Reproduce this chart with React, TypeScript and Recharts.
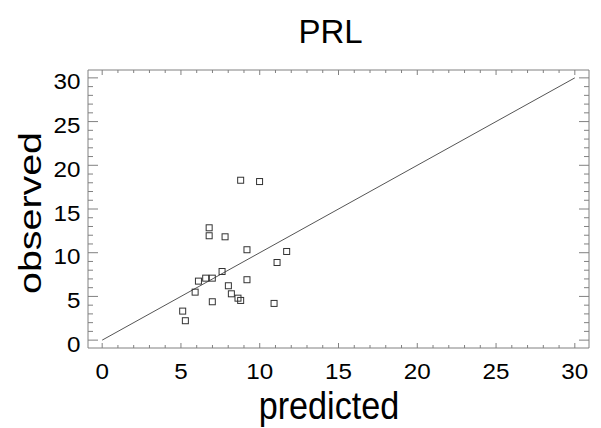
import { ScatterChart, Scatter, XAxis, YAxis } from 'recharts'

const predicted = [
    8.79, 9.99, 6.79, 6.79, 7.8, 9.19, 11.71, 11.1, 7.61, 6.11, 6.57,
    6.99, 9.19, 8.01, 5.9, 8.2, 8.62, 8.79, 6.99, 10.91, 5.11, 5.28,
]
const observed = [
    18.29, 18.14, 12.85, 11.94, 11.82, 10.34, 10.14, 8.88, 7.85, 6.75, 7.09,
    7.09, 6.91, 6.22, 5.49, 5.3, 4.8, 4.54, 4.39, 4.2, 3.32, 2.22,
]
const majorTicks = [0, 5, 10, 15, 20, 25, 30]
const allTicks = [
    0, 1, 2, 3, 4, 5, 6, 7, 8, 9, 10, 11, 12, 13, 14, 15,
    16, 17, 18, 19, 20, 21, 22, 23, 24, 25, 26, 27, 28, 29, 30,
]
const identityLine = [
    { x: 0, y: 0 },
    { x: 30, y: 30 },
]

const points = predicted.map((p, i) => ({ x: p, y: observed[i] }))

const AXIS = '#808080'
const FONT = '"Liberation Sans", Arial, sans-serif'
const DOMAIN: [number, number] = [-0.9, 30.9]

type Side = 'bottom' | 'top' | 'left' | 'right'

// ticks point inward, labels only on bottom/left
const tickFor = (side: Side) => (props: any) => {
    const { x, y, payload } = props
    const v = payload.value
    const major = majorTicks.includes(v)
    if (side === 'bottom' || side === 'top') {
        const len = major ? 5 : 3
        const dir = side === 'bottom' ? -1 : 1
        return (
            <g>
                <line x1={x} y1={y} x2={x} y2={y + dir * len} stroke={AXIS} />
                {side === 'bottom' && major && (
                    <text
                        transform={`translate(${x} ${y + 30.5}) scale(1.1 1)`}
                        textAnchor="middle"
                        fontSize={22}
                        fontFamily={FONT}
                        fill="#000"
                    >
                        {v}
                    </text>
                )}
            </g>
        )
    }
    const len = major ? 10 : 5
    const dir = side === 'left' ? 1 : -1
    return (
        <g>
            <line x1={x} y1={y} x2={x + dir * len} y2={y} stroke={AXIS} />
            {side === 'left' && major && (
                <text
                    transform={`translate(${x - 7.5} ${y + 11.6}) scale(1.1 1)`}
                    textAnchor="end"
                    fontSize={22}
                    fontFamily={FONT}
                    fill="#000"
                >
                    {v}
                </text>
            )}
        </g>
    )
}

const Square = (props: any) => {
    const { cx, cy } = props
    return <rect x={cx - 3} y={cy - 3} width={6} height={6} fill="none" stroke="#333" strokeWidth={1} />
}

const NoDot = () => <g />

export default function App() {
    return (
        <div style={{ position: 'absolute', left: 0, top: 0, width: 601, height: 428, background: '#fff' }}>
            <ScatterChart width={601} height={428} margin={{ top: 69, right: 11, bottom: 0, left: 0 }}>
                <text x={330.5} y={43} textAnchor="middle" fontSize={33} fontFamily={FONT} fill="#000">
                    PRL
                </text>
                <text
                    transform="translate(329 419) scale(0.9 1)"
                    textAnchor="middle"
                    fontSize={38}
                    fontFamily={FONT}
                    fill="#000"
                >
                    predicted
                </text>
                <text
                    transform="translate(41 213) rotate(-90) scale(1.27 1)"
                    textAnchor="middle"
                    fontSize={31}
                    fontFamily={FONT}
                    fill="#000"
                >
                    observed
                </text>
                <XAxis
                    xAxisId="b"
                    type="number"
                    dataKey="x"
                    domain={DOMAIN}
                    ticks={allTicks}
                    interval={0}
                    height={80}
                    tickSize={0}
                    tickMargin={0}
                    tickLine={false}
                    axisLine={{ stroke: AXIS }}
                    tick={tickFor('bottom')}
                    allowDataOverflow
                />
                <XAxis
                    xAxisId="t"
                    orientation="top"
                    type="number"
                    dataKey="x"
                    domain={DOMAIN}
                    ticks={allTicks}
                    interval={0}
                    height={1}
                    tickSize={0}
                    tickMargin={0}
                    tickLine={false}
                    axisLine={{ stroke: AXIS }}
                    tick={tickFor('top')}
                    allowDataOverflow
                />
                <YAxis
                    yAxisId="l"
                    type="number"
                    dataKey="y"
                    domain={DOMAIN}
                    ticks={allTicks}
                    interval={0}
                    width={88}
                    tickSize={0}
                    tickMargin={0}
                    tickLine={false}
                    axisLine={{ stroke: AXIS }}
                    tick={tickFor('left')}
                    allowDataOverflow
                />
                <YAxis
                    yAxisId="r"
                    orientation="right"
                    type="number"
                    dataKey="y"
                    domain={DOMAIN}
                    ticks={allTicks}
                    interval={0}
                    width={1}
                    tickSize={0}
                    tickMargin={0}
                    tickLine={false}
                    axisLine={{ stroke: AXIS }}
                    tick={tickFor('right')}
                    allowDataOverflow
                />
                <Scatter
                    xAxisId="t"
                    yAxisId="r"
                    data={identityLine}
                    line={{ stroke: '#555', strokeWidth: 1 }}
                    shape={<NoDot />}
                    isAnimationActive={false}
                />
                <Scatter
                    xAxisId="b"
                    yAxisId="l"
                    data={points}
                    shape={<Square />}
                    isAnimationActive={false}
                />
            </ScatterChart>
        </div>
    )
}
